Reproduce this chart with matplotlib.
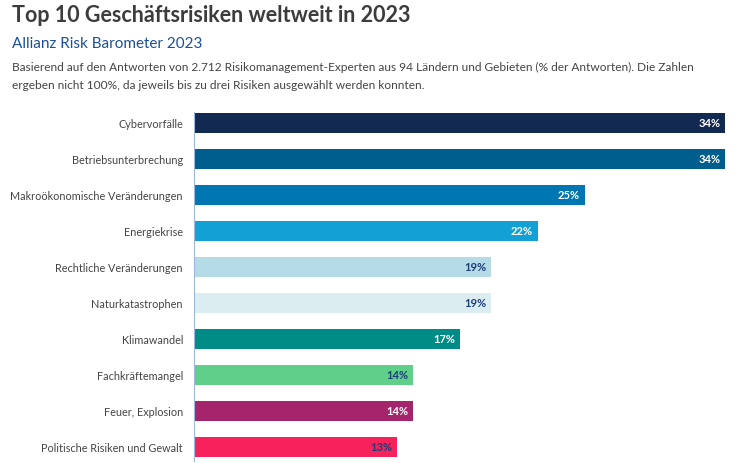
import matplotlib.pyplot as plt
import numpy as np

categories = [
    "Cybervorfälle",
    "Betriebsunterbrechung",
    "Makroökonomische Veränderungen",
    "Energiekrise",
    "Rechtliche Veränderungen",
    "Naturkatastrophen",
    "Klimawandel",
    "Fachkräftemangel",
    "Feuer, Explosion",
    "Politische Risiken und Gewalt",
]
values = [34, 34, 25, 22, 19, 19, 17, 14, 14, 13]
bar_colors = [
    "#122a52", "#005e8e", "#0077b2", "#13a0d5", "#b5dbe6",
    "#dcedf2", "#008c86", "#5fcf89", "#a5256d", "#f7215c",
]
label_colors = [
    "white", "white", "white", "white", "#1d3f7a",
    "#1d3f7a", "white", "#1d3f7a", "white", "#1d3f7a",
]

plt.rcParams["font.family"] = ["Lato", "DejaVu Sans"]

fig = plt.figure(figsize=(7.5, 4.64), dpi=100)

fig.text(12 / 750, 1 - 16 / 464, "Top 10 Geschäftsrisiken weltweit in 2023",
         fontsize=15.5, fontweight="bold", color="#3c3c3c", va="center", ha="left")
fig.text(12 / 750, 1 - 44 / 464, "Allianz Risk Barometer 2023",
         fontsize=11, color="#1c4f9c", va="center", ha="left")
fig.text(12 / 750, 1 - 67 / 464,
         "Basierend auf den Antworten von 2.712 Risikomanagement-Experten aus 94 Ländern und Gebieten (% der Antworten). Die Zahlen",
         fontsize=8.6, color="#444444", va="center", ha="left")
fig.text(12 / 750, 1 - 86 / 464,
         "ergeben nicht 100%, da jeweils bis zu drei Risiken ausgewählt werden konnten.",
         fontsize=8.6, color="#444444", va="center", ha="left")

ax = fig.add_axes([194 / 750, 2 / 464, (742 - 194) / 750, 349 / 464])
y = np.arange(len(categories))
ax.barh(y, values, height=0.56, color=bar_colors)
ax.set_xlim(0, (742 - 194) / 15.62)
ax.set_ylim(9.39, -0.305)

for yi, v, c in zip(y, values, label_colors):
    ax.text(v - 0.3, yi, f"{v}%", ha="right", va="center",
            fontsize=8, fontweight="bold", color=c)

ax.set_yticks(y)
ax.set_yticklabels(categories, fontsize=7.8, color="#444444")
ax.tick_params(axis="y", length=0, pad=8)
ax.set_xticks([])
for side in ["top", "right", "bottom"]:
    ax.spines[side].set_visible(False)
ax.spines["left"].set_color("#9db8e0")
ax.spines["left"].set_linewidth(0.8)

fig.savefig("out.png", dpi=100)
